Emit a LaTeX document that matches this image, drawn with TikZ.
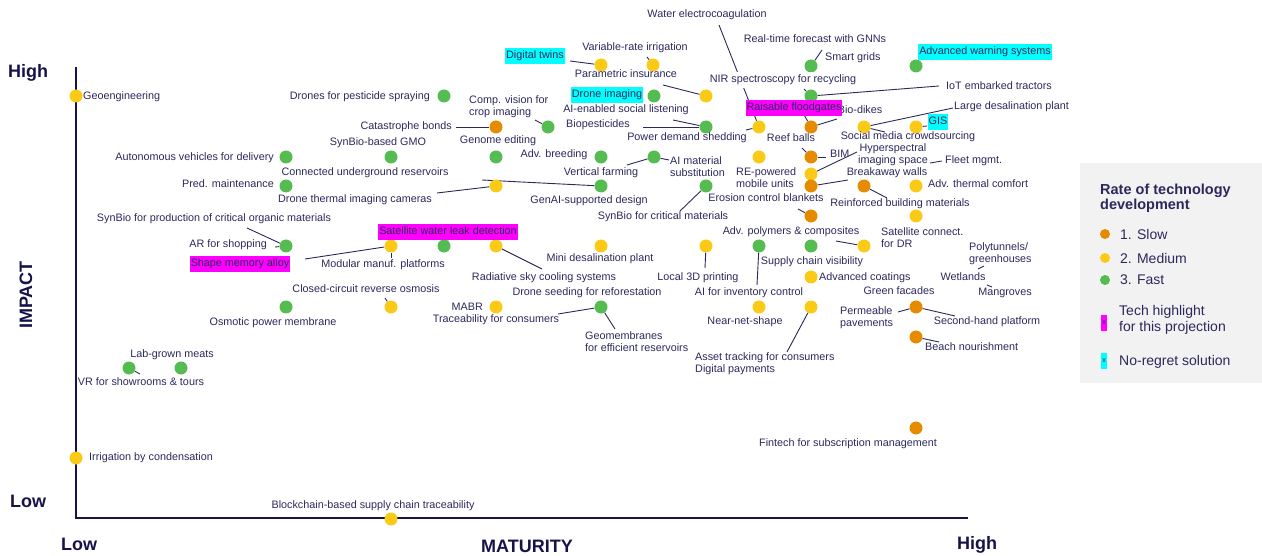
\documentclass[tikz,border=0pt]{standalone}
\usepackage{fontspec}
\setmainfont{Liberation Sans}
\usetikzlibrary{backgrounds}
\definecolor{cslow}{RGB}{230,138,0}
\definecolor{cmed}{RGB}{250,202,22}
\definecolor{cfast}{RGB}{84,188,80}
\definecolor{ctext}{RGB}{44,40,92}
\definecolor{caxis}{RGB}{22,18,74}
\definecolor{ccyan}{RGB}{0,255,255}
\definecolor{cmag}{RGB}{255,0,255}
\definecolor{clegbg}{RGB}{242,242,242}
\newcommand\lblfont{\fontsize{10.8}{12}\selectfont}
\newcommand\legfont{\fontsize{14}{15.5}\selectfont}
\newcommand\legtitlefont{\fontsize{14.5}{15}\selectfont\bfseries}
\newcommand\axfont{\fontsize{18}{20}\selectfont\bfseries}
\begin{document}
\begin{tikzpicture}[x=1pt,y=-1pt,
  dot/.style={circle,inner sep=0pt,minimum size=13pt},
  slow/.style={dot,fill=cslow},
  med/.style={dot,fill=cmed},
  fast/.style={dot,fill=cfast},
  lbl/.style={font=\lblfont,text=ctext,inner sep=1pt,text height=7.5pt,text depth=2.5pt,yshift=-1.5pt},
  ml/.style={font=\lblfont,text=ctext,inner sep=1pt,align=left,yshift=-1.5pt},
  hl/.style={font=\lblfont,text=ctext,inner xsep=1pt,inner ysep=2.5pt,text height=8pt,text depth=2.5pt,yshift=-0.8pt},
  hlc/.style={hl,fill=ccyan},
  hlm/.style={hl,fill=cmag},
  conn/.style={draw=ctext,line width=0.9pt},
  axisline/.style={draw=caxis,line width=1.7pt},
  axlbl/.style={font=\axfont,text=caxis,inner sep=0pt},
  legdot/.style={circle,inner sep=0pt,minimum size=10pt},
  legtxt/.style={font=\legfont,text=ctext,anchor=west,inner sep=0pt,align=left},
  legkey/.style={font=\fontsize{7}{7}\selectfont,text=ctext,inner sep=0pt,minimum width=6pt,minimum height=16pt}
]
\useasboundingbox (0,0) rectangle (1262,556);

% axes
\coordinate (ytop) at (76,67);
\coordinate (orig) at (76,518);
\coordinate (xend) at (968,518);
\draw[axisline] (ytop) -- (orig) -- (xend);
\node[axlbl] (hi1) at (28,73) {High};
\node[axlbl] (lo1) at (28,501) {Low};
\node[axlbl] (lo2) at (79,544) {Low};
\node[axlbl] (mat) at (527,546) {MATURITY};
\node[axlbl] (hi2) at (977,545) {High};
\node[axlbl,rotate=90] (imp) at (26,295) {IMPACT};

% dots
\node[med] (geo) at (76,96) {};
\node[fast] (dps) at (444,96) {};
\node[med] (dtw) at (601,65) {};
\node[med] (vri) at (653,65) {};
\node[med] (par) at (706,96) {};
\node[fast] (dim) at (654,96) {};
\node[fast] (smg) at (811,66) {};
\node[fast] (adw) at (916,66) {};
\node[fast] (nir) at (811,96) {};
\node[slow] (cat) at (496,127) {};
\node[fast] (cvi) at (548,127) {};
\node[fast] (pds) at (706,127) {};
\node[med] (wec) at (759,127) {};
\node[slow] (rfg) at (811,127) {};
\node[med] (ldp) at (864,127) {};
\node[med] (gis) at (916,127) {};
\node[fast] (avd) at (286,157) {};
\node[fast] (sgm) at (391,157) {};
\node[fast] (gen) at (496,157) {};
\node[fast] (adb) at (601,157) {};
\node[fast] (ams) at (654,157) {};
\node[med] (rep) at (759,157) {};
\node[slow] (bim) at (811,157) {};
\node[med] (hyp) at (811,174) {};
\node[fast] (pmt) at (286,186) {};
\node[med] (dtc) at (496,186) {};
\node[fast] (gai) at (601,186) {};
\node[fast] (scm) at (706,186) {};
\node[slow] (brk) at (811,186) {};
\node[slow] (rbm) at (864,186) {};
\node[med] (atc) at (916,186) {};
\node[slow] (ecb) at (811,216) {};
\node[med] (sdr) at (916,216) {};
\node[fast] (syb) at (286,246) {};
\node[med] (mmp) at (391,246) {};
\node[fast] (swl) at (444,246) {};
\node[med] (rsc) at (496,246) {};
\node[med] (mdp) at (601,246) {};
\node[med] (l3d) at (706,246) {};
\node[fast] (aic) at (759,246) {};
\node[fast] (scv) at (811,246) {};
\node[med] (apc) at (864,246) {};
\node[med] (adc) at (811,277) {};
\node[fast] (opm) at (286,307) {};
\node[med] (ccr) at (391,307) {};
\node[med] (mabr) at (496,307) {};
\node[fast] (dsr) at (601,307) {};
\node[med] (nns) at (759,307) {};
\node[med] (ast) at (811,307) {};
\node[slow] (php) at (916,307) {};
\node[slow] (bnr) at (916,337) {};
\node[fast] (lgm1) at (129,368) {};
\node[fast] (lgm2) at (181,368) {};
\node[slow] (fin) at (916,428) {};
\node[med] (irr) at (76,458) {};
\node[med] (blk) at (391,519) {};

% labels
\node[lbl,anchor=west] (tgeo) at (82,96) {Geoengineering};
\node[lbl,anchor=east] (tdps) at (431,96) {Drones for pesticide spraying};
\node[hlc] (tdtw) at (535,55) {Digital twins};
\node[lbl] (tvri) at (635,47) {Variable-rate irrigation};
\node[lbl] (tpar) at (626,74) {Parametric insurance};
\node[hlc] (tdim) at (607,94) {Drone imaging};
\node[lbl] (twec) at (707,14) {Water electrocoagulation};
\node[lbl] (trtf) at (815,39) {Real-time forecast with GNNs};
\node[lbl,anchor=west] (tsmg) at (824,57) {Smart grids};
\node[hlc] (tadw) at (985,51) {Advanced warning systems};
\node[lbl,fill=white,inner ysep=3pt] (tnir) at (783,79) {NIR spectroscopy for recycling};
\node[lbl,anchor=west] (tiot) at (945,86) {IoT embarked tractors};
\node[ml,anchor=west] (tcvi) at (468,105) {Comp. vision for\\crop imaging};
\node[lbl] (tasl) at (626,109) {AI-enabled social listening};
\node[lbl] (tbio) at (860,110) {Bio-dikes};
\node[hlm] (trfg) at (794,107) {Raisable floodgates};
\node[lbl,anchor=west] (tldp) at (953,106) {Large desalination plant};
\node[lbl,anchor=east] (tcat) at (453,126) {Catastrophe bonds};
\node[lbl] (tbps) at (598,124) {Biopesticides};
\node[hlc] (tgis) at (938,121) {GIS};
\node[lbl] (tpds) at (687,137) {Power demand shedding};
\node[lbl] (treef) at (791,138) {Reef balls};
\node[lbl] (tsmc) at (908,136) {Social media crowdsourcing};
\node[lbl] (tgen) at (498,140) {Genome editing};
\node[lbl] (tsgm) at (378,142) {SynBio-based GMO};
\node[lbl,anchor=east] (tavd) at (275,157) {Autonomous vehicles for delivery};
\node[lbl] (tadb) at (554,154) {Adv. breeding};
\node[ml,anchor=west] (tams) at (669,165) {AI material\\substitution};
\node[lbl,anchor=west] (tbim) at (829,154) {BIM};
\node[ml,align=center] (thyp) at (893,153) {Hyperspectral\\imaging space};
\node[lbl,anchor=west] (tflt) at (944,160) {Fleet mgmt.};
\node[lbl] (tcur) at (365,172) {Connected underground reservoirs};
\node[ml,anchor=west] (trep) at (735,176) {RE-powered\\mobile units};
\node[lbl] (tvfm) at (601,172) {Vertical farming};
\node[lbl] (tbrk) at (887,172) {Breakaway walls};
\node[lbl,anchor=east] (tpmt) at (275,184) {Pred. maintenance};
\node[lbl,anchor=west] (tatc) at (927,184) {Adv. thermal comfort};
\node[lbl] (tecb) at (766,198) {Erosion control blankets};
\node[lbl] (tdtc) at (355,199) {Drone thermal imaging cameras};
\node[lbl] (tgai) at (589,200) {GenAI-supported design};
\node[lbl] (trbm) at (900,203) {Reinforced building materials};
\node[lbl] (tscm) at (663,216) {SynBio for critical materials};
\node[lbl] (tsyb) at (214,218) {SynBio for production of critical organic materials};
\node[hlm] (tswl) at (448,231) {Satellite water leak detection};
\node[lbl] (tapc) at (791,231) {Adv. polymers \& composites};
\node[ml,anchor=west] (tsdr) at (880,236) {Satellite connect.\\for DR};
\node[lbl,anchor=east] (tars) at (268,244) {AR for shopping};
\node[ml,anchor=west] (tpoly) at (968,252) {Polytunnels/\\greenhouses};
\node[lbl] (tmdp) at (600,258) {Mini desalination plant};
\node[lbl] (tscv) at (812,261) {Supply chain visibility};
\node[hlm] (tsma) at (240,263) {Shape memory alloy};
\node[lbl] (tmmp) at (383,264) {Modular manuf. platforms};
\node[lbl] (trsc) at (544,277) {Radiative sky cooling systems};
\node[lbl] (tl3d) at (698,276) {Local 3D printing};
\node[lbl,anchor=west] (tadc) at (818,277) {Advanced coatings};
\node[lbl] (twet) at (963,277) {Wetlands};
\node[lbl] (tccr) at (366,289) {Closed-circuit reverse osmosis};
\node[lbl] (tdsr) at (587,292) {Drone seeding for reforestation};
\node[lbl] (taic) at (749,292) {AI for inventory control};
\node[lbl] (tgfc) at (899,291) {Green facades};
\node[lbl] (tmng) at (1005,292) {Mangroves};
\node[lbl,anchor=east] (tmabr) at (484,307) {MABR};
\node[ml,anchor=west] (tphp) at (839,316) {Permeable\\pavements};
\node[lbl] (tshp) at (987,320) {Second-hand platform};
\node[lbl] (ttrc) at (496,319) {Traceability for consumers};
\node[lbl] (tnns) at (745,321) {Near-net-shape};
\node[lbl] (topm) at (273,322) {Osmotic power membrane};
\node[ml,anchor=west] (tgeom) at (584,340) {Geomembranes\\for efficient reservoirs};
\node[lbl,anchor=west] (tbnr) at (924,347) {Beach nourishment};
\node[lbl] (tlgm) at (172,353) {Lab-grown meats};
\node[ml,anchor=west] (tast) at (694,362) {Asset tracking for consumers\\Digital payments};
\node[lbl] (tvrs) at (141,381) {VR for showrooms \& tours};
\node[lbl] (tfin) at (848,442) {Fintech for subscription management};
\node[lbl,anchor=west] (tirr) at (88,456) {Irrigation by condensation};
\node[lbl] (tblk) at (373,504) {Blockchain-based supply chain traceability};

% connector ends
\coordinate (k1) at (570,61);
\coordinate (k2) at (647,57);
\coordinate (k3) at (663,85);
\coordinate (k4) at (719,25);
\coordinate (k5) at (822,50);
\coordinate (k6) at (804,89);
\coordinate (k7) at (939,86);
\coordinate (k8) at (643,127);
\coordinate (k9) at (673,120);
\coordinate (k10) at (746,130);
\coordinate (k11) at (803,113);
\coordinate (k12) at (837,119);
\coordinate (k13) at (456,127);
\coordinate (k14) at (535,120);
\coordinate (k15) at (953,108);
\coordinate (k16) at (885,132);
\coordinate (k17) at (927,126);
\coordinate (k18) at (499,151);
\coordinate (k19) at (826,157);
\coordinate (k20) at (802,148);
\coordinate (k21) at (857,152);
\coordinate (k22a) at (930,163);
\coordinate (k22b) at (942,161);
\coordinate (k23) at (848,180);
\coordinate (k24) at (887,198);
\coordinate (k25) at (798,209);
\coordinate (k26) at (627,165);
\coordinate (k27) at (669,160);
\coordinate (k28) at (680,211);
\coordinate (k29) at (437,193);
\coordinate (k30) at (482,180);
\coordinate (k31) at (247,228);
\coordinate (k32) at (275,247);
\coordinate (k33) at (305,259);
\coordinate (k34) at (391,258);
\coordinate (k35) at (448,240);
\coordinate (k36) at (542,269);
\coordinate (k37) at (705,268);
\coordinate (k38) at (757,285);
\coordinate (k39) at (836,241);
\coordinate (k40) at (385,298);
\coordinate (k41) at (558,314);
\coordinate (k42) at (615,329);
\coordinate (k43) at (787,352);
\coordinate (k44) at (898,312);
\coordinate (k45) at (955,316);
\coordinate (k46) at (939,342);
\coordinate (k47a) at (978,269);
\coordinate (k47b) at (984,266);
\coordinate (k48a) at (987,285);
\coordinate (k48b) at (992,287);
\coordinate (k49) at (140,374);

\begin{scope}[on background layer]
\draw[conn] (k1) -- (dtw);
\draw[conn] (k2) -- (vri);
\draw[conn] (k3) -- (par);
\draw[conn] (k4) -- (wec);
\draw[conn] (k5) -- (smg);
\draw[conn] (k6) -- (nir);
\draw[conn] (k7) -- (nir);
\draw[conn] (k8) -- (pds);
\draw[conn] (k9) -- (pds);
\draw[conn] (k10) -- (wec);
\draw[conn] (k11) -- (rfg);
\draw[conn] (k12) -- (rfg);
\draw[conn] (k13) -- (cat);
\draw[conn] (k14) -- (cvi);
\draw[conn] (k15) -- (ldp);
\draw[conn] (k16) -- (ldp);
\draw[conn] (k17) -- (gis);
\draw[conn] (k18) -- (gen);
\draw[conn] (k19) -- (bim);
\draw[conn] (k20) -- (bim);
\draw[conn] (k21) -- (hyp);
\draw[conn] (k22a) -- (k22b);
\draw[conn] (k23) -- (brk);
\draw[conn] (k24) -- (rbm);
\draw[conn] (k25) -- (ecb);
\draw[conn] (k26) -- (ams);
\draw[conn] (k27) -- (ams);
\draw[conn] (k28) -- (scm);
\draw[conn] (k29) -- (dtc);
\draw[conn] (k30) -- (gai);
\draw[conn] (k31) -- (syb);
\draw[conn] (k32) -- (syb);
\draw[conn] (k33) -- (mmp);
\draw[conn] (k34) -- (mmp);
\draw[conn] (k35) -- (swl);
\draw[conn] (k36) -- (rsc);
\draw[conn] (k37) -- (l3d);
\draw[conn] (k38) -- (aic);
\draw[conn] (k39) -- (apc);
\draw[conn] (k40) -- (ccr);
\draw[conn] (k41) -- (dsr);
\draw[conn] (k42) -- (dsr);
\draw[conn] (k43) -- (ast);
\draw[conn] (k44) -- (php);
\draw[conn] (k45) -- (php);
\draw[conn] (k46) -- (bnr);
\draw[conn] (k47a) -- (k47b);
\draw[conn] (k48a) -- (k48b);
\draw[conn] (k49) -- (lgm1);
\end{scope}

% legend
\fill[clegbg] (1080,163) rectangle (1262,383);
\node[legtxt,font=\legtitlefont] (lgt) at (1100,198.5) {Rate of technology\\development};
\node[legdot,fill=cslow] (lsd) at (1105,234) {};
\node[legtxt] (lst) at (1120,234) {1. Slow};
\node[legdot,fill=cmed] (lmd) at (1105,258) {};
\node[legtxt] (lmt) at (1120,258) {2. Medium};
\node[legdot,fill=cfast] (lfd) at (1105,280) {};
\node[legtxt] (lft) at (1120,280) {3. Fast};
\node[legkey,fill=cmag] (lhk) at (1104,323) {x};
\node[legtxt] (lht) at (1119,320) {Tech highlight\\for this projection};
\node[legkey,fill=ccyan] (lnk) at (1104,360.5) {x};
\node[legtxt] (lnt) at (1119,361.5) {No-regret solution};
\end{tikzpicture}
\end{document}
